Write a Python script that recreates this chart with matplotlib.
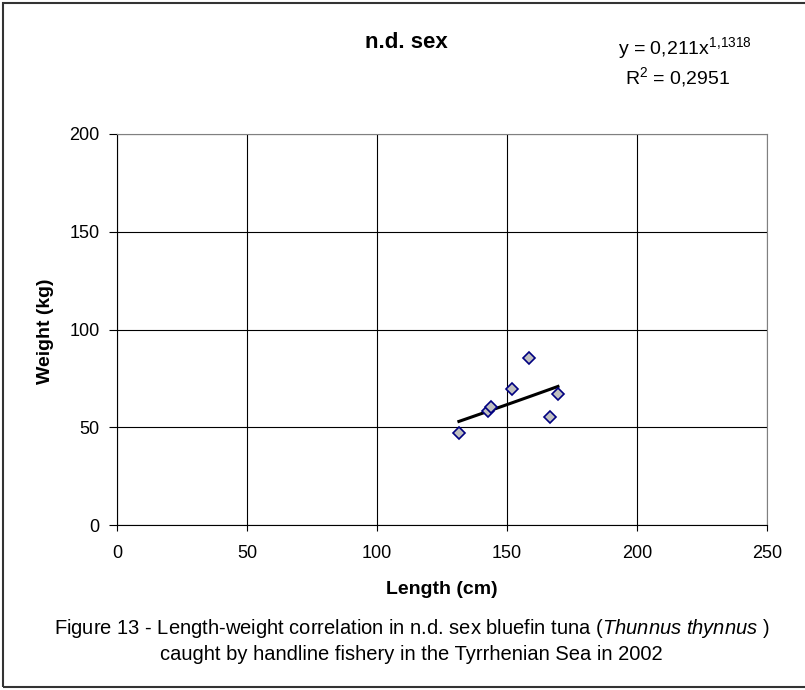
import numpy as np
import matplotlib.pyplot as plt
from matplotlib.patches import Rectangle

plt.rcParams['font.family'] = ['Liberation Sans', 'DejaVu Sans']
plt.rcParams['mathtext.fontset'] = 'custom'
plt.rcParams['mathtext.rm'] = 'Liberation Sans'
plt.rcParams['mathtext.it'] = 'Liberation Sans:italic'

# measured points (length cm, weight kg)
length_cm = [131.5, 142.8, 143.7, 151.8, 158.6, 166.5, 169.6]
weight_kg = [46.9, 58.3, 60.5, 69.7, 85.4, 55.1, 67.2]
x_ticks = [0, 50, 100, 150, 200, 250]
y_ticks = [0, 50, 100, 150, 200]

W, H = 805, 690
fig = plt.figure(figsize=(W / 100, H / 100), dpi=100)
ax = fig.add_axes([117 / W, 1 - 525 / H, 650 / W, 391 / H])

# power trend line fitted in log-log space (like Excel)
b, loga = np.polyfit(np.log(length_cm), np.log(weight_kg), 1)
x_fit = np.linspace(min(length_cm), max(length_cm), 50)
ax.plot(x_fit, np.exp(loga) * x_fit ** b, color='black', lw=2.2, zorder=3)

ax.plot(length_cm, weight_kg, linestyle='none', marker='D', markersize=6.5,
        markerfacecolor='#C0C0C0', markeredgecolor='#000080',
        markeredgewidth=1.2, zorder=4)

ax.set_xlim(0, 250)
ax.set_ylim(0, 200)
ax.set_xticks(x_ticks)
ax.set_yticks(y_ticks)
ax.grid(True, color='black', lw=0.8)
ax.set_axisbelow(True)
ax.tick_params(axis='x', direction='out', length=4.5, width=0.8, labelsize=13, pad=10)
ax.tick_params(axis='y', direction='out', length=5.5, width=0.8, labelsize=13, pad=7)
for side in ['top', 'right']:
    ax.spines[side].set_color('#808080')

fig.text(442 / W, 1 - 590 / H, 'Length (cm)', fontsize=14, fontweight='bold',
         ha='center', va='center')
fig.text(46 / W, 1 - 331 / H, 'Weight (kg)', fontsize=14, fontweight='bold',
         ha='center', va='center', rotation=90)

fig.text(406 / W, 1 - 42 / H, 'n.d. sex', fontsize=16, fontweight='bold',
         ha='center', va='center')
fig.text(685 / W, 1 - 48 / H, r'y = 0,211x$^{1{,}1318}$', fontsize=14,
         ha='center', va='center')
fig.text(678 / W, 1 - 77 / H, r'R$^{2}$ = 0,2951', fontsize=14,
         ha='center', va='center')

fig.text(412 / W, 1 - 629 / H,
         'Figure 13 - Length-weight correlation in n.d. sex bluefin tuna '
         '($\\mathit{Thunnus\\ thynnus}$ )',
         fontsize=14.5, ha='center', va='center')
fig.text(411 / W, 1 - 655 / H,
         'caught by handline fishery in the Tyrrhenian Sea in 2002',
         fontsize=14.5, ha='center', va='center')

fig.patches.append(Rectangle((3 / W, 3 / H), 1.0, 1 - 5.5 / H,
                             transform=fig.transFigure, fill=False,
                             edgecolor='#333333', lw=1.5))

fig.savefig('out.png', dpi=100)
